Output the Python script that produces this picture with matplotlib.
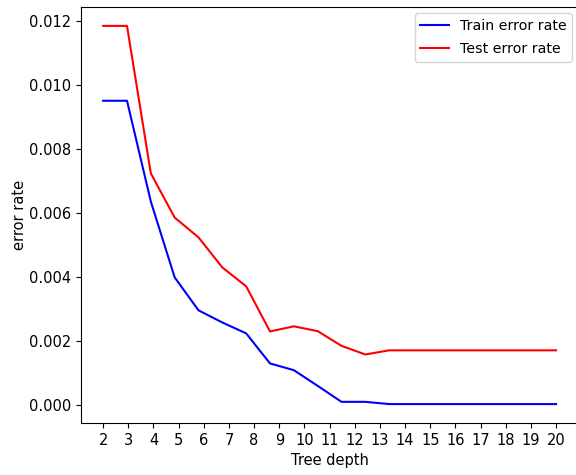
import numpy as np
import matplotlib.pyplot as plt

plt.rcParams['font.size'] = 10.5

# error rates for decision trees of increasing depth
depth = np.linspace(2, 20, 20)
train_err = [0.00950, 0.00950, 0.00635, 0.00398, 0.00295, 0.00257, 0.00223,
             0.00129, 0.00108, 0.00059, 0.00009, 0.00009, 0.00002, 0.00002,
             0.00002, 0.00002, 0.00002, 0.00002, 0.00002, 0.00002]
test_err = [0.01184, 0.01184, 0.00723, 0.00585, 0.00523, 0.00429, 0.00370,
            0.00229, 0.00245, 0.00230, 0.00184, 0.00157, 0.00170, 0.00170,
            0.00170, 0.00170, 0.00170, 0.00170, 0.00170, 0.00170]
ticks = list(range(2, 21))

fig = plt.figure(figsize=(5.76, 4.75), dpi=100)
ax = fig.add_axes([0.1398, 0.1095, 0.8648, 0.8758])

ax.plot(depth, train_err, 'b', label='Train error rate')
ax.plot(depth, test_err, 'r', label='Test error rate')
ax.set_xticks(ticks)
ax.set_xlabel('Tree depth')
ax.set_ylabel('error rate', labelpad=1)
ax.legend(loc='upper right', labelspacing=0.65, borderaxespad=0.45,
          fontsize=10.2)

plt.savefig('out.png', dpi=100)
